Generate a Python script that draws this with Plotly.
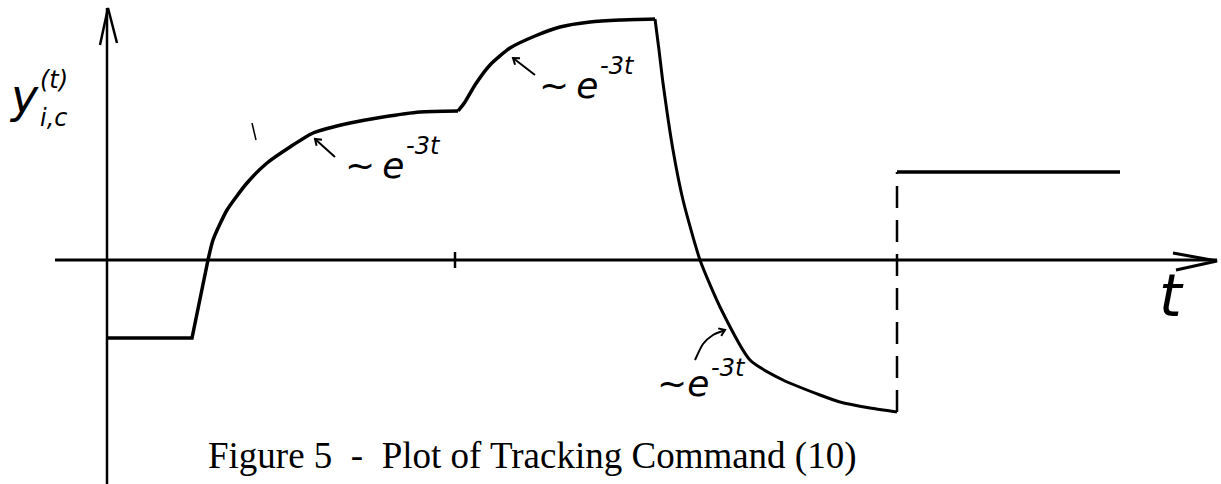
import math
import plotly.graph_objects as go

# ---- data (t, y); origin at the axes crossing ----
curve_t = [0.00, 0.85, 1.01, 1.06, 1.20, 1.40, 1.60, 1.83, 2.06, 2.43, 2.76, 3.13, 3.51,
           3.58, 3.68, 3.83, 4.03, 4.28, 4.53, 4.83, 5.13, 5.48,
           5.52, 5.56, 5.66, 5.76, 5.93, 6.13, 6.43, 6.76, 7.13, 7.33, 7.63, 7.90]
curve_y = [-0.78, -0.78, 0.00, 0.20, 0.50, 0.77, 0.97, 1.13, 1.27, 1.37, 1.43, 1.48, 1.49,
           1.58, 1.75, 1.95, 2.12, 2.24, 2.33, 2.38, 2.40, 2.41,
           2.10, 1.77, 1.10, 0.60, 0.00, -0.47, -1.00, -1.20, -1.35, -1.42, -1.48, -1.52]
jump_t = [7.90, 7.90]
jump_y = [-1.52, 0.88]
step_t = [7.90, 10.13]
step_y = [0.88, 0.88]
tick_t = 3.48

x_range = [-1.07, 11.14]
y_range = [-2.24, 2.60]

BLACK = "#000000"
fig = go.Figure()


def line(xs, ys, width=3.5, dash="solid", shape="spline", smoothing=0.6):
    fig.add_trace(go.Scatter(x=xs, y=ys, mode="lines",
                             line=dict(color=BLACK, width=width, dash=dash,
                                       shape=shape, smoothing=smoothing),
                             hoverinfo="skip", showlegend=False))


# axes drawn in data space
line([-0.52, 11.10], [0, 0], width=3, shape="linear")
line([0, 0], [-2.24, 2.52], width=2.5, shape="linear")
# arrowheads
line([-0.07, 0.01, 0.10], [2.15, 2.52, 2.17], width=2.5, shape="linear")
line([10.66, 11.10, 10.69], [0.07, -0.01, -0.10], width=3, shape="linear")
# tick
line([tick_t, tick_t], [0.08, -0.08], width=2.5, shape="linear")

# main curve: flat part + smooth pieces
line(curve_t[:3], curve_y[:3], width=3.5, shape="linear")
line(curve_t[2:13], curve_y[2:13], width=3.5)
line(curve_t[12:22], curve_y[12:22], width=3.5)
line(curve_t[21:], curve_y[21:], width=3.0)
line(jump_t, jump_y, width=2.5, dash="22px,12px", shape="linear")
line(step_t, step_y, width=3.5, shape="linear")

# stray scan mark
line([1.45, 1.49], [1.37, 1.20], width=1.5, shape="linear")


# small pointer arrows (tip, tail)
def pointer(tip, tail, head=0.07, shaft=True):
    dx, dy = tail[0] - tip[0], tail[1] - tip[1]
    n = math.hypot(dx, dy)
    ux, uy = dx / n, dy / n
    a = math.radians(35)
    p1 = (tip[0] + head * (ux * math.cos(a) - uy * math.sin(a)),
          tip[1] + head * (ux * math.sin(a) + uy * math.cos(a)))
    p2 = (tip[0] + head * (ux * math.cos(a) + uy * math.sin(a)),
          tip[1] + head * (-ux * math.sin(a) + uy * math.cos(a)))
    if shaft:
        line([tail[0], tip[0]], [tail[1], tip[1]], width=2, shape="linear")
    line([p1[0], tip[0], p2[0]], [p1[1], tip[1], p2[1]], width=2, shape="linear")


pointer((2.08, 1.21), (2.28, 1.03))
pointer((4.06, 2.02), (4.28, 1.85))
# curved arrow near the third label
line([5.88, 5.96, 6.06, 6.18], [-1.00, -0.84, -0.75, -0.70], width=2, shape="spline")
pointer((6.18, -0.70), (6.08, -0.74), head=0.07, shaft=False)

HAND = "DejaVu Sans"


def text(x, y, s, size, family=HAND, style="italic"):
    fig.add_annotation(x=x, y=y, xref="x", yref="y", text=s,
                       showarrow=False, xanchor="center", yanchor="middle",
                       font=dict(family=family, size=size, color=BLACK, style=style))


# ~ e^{-3t} labels: (base text, base centre, exponent centre)
exp_labels = [
    ("~\u2009e", (2.675, 0.95), (3.165, 1.14)),
    ("~\u2009e", (4.615, 1.75), (5.105, 1.94)),
    ("~e", (5.76, -1.23), (6.21, -1.08)),
]
for base, bpos, epos in exp_labels:
    text(bpos[0], bpos[1], base, 36)
    text(epos[0], epos[1], "-3t", 24)

# y-axis label
text(-0.83, 1.64, "y", 46)
text(-0.53, 1.80, "(t)", 24)
text(-0.53, 1.42, "i,c", 24)

# t label
text(10.64, -0.36, "t", 58)

# caption
text(4.25, -1.96, "Figure 5\u00a0 -\u00a0 Plot of Tracking Command (10)", 37,
     family="Liberation Serif", style="normal")

fig.update_layout(
    width=1221, height=484,
    margin=dict(l=0, r=0, t=0, b=0),
    paper_bgcolor="white", plot_bgcolor="white",
    xaxis=dict(range=x_range, visible=False, fixedrange=True),
    yaxis=dict(range=y_range, visible=False, fixedrange=True),
    showlegend=False,
)
fig.write_html("out.html", config={"displayModeBar": False},
               post_script="document.body.style.margin='0';")
